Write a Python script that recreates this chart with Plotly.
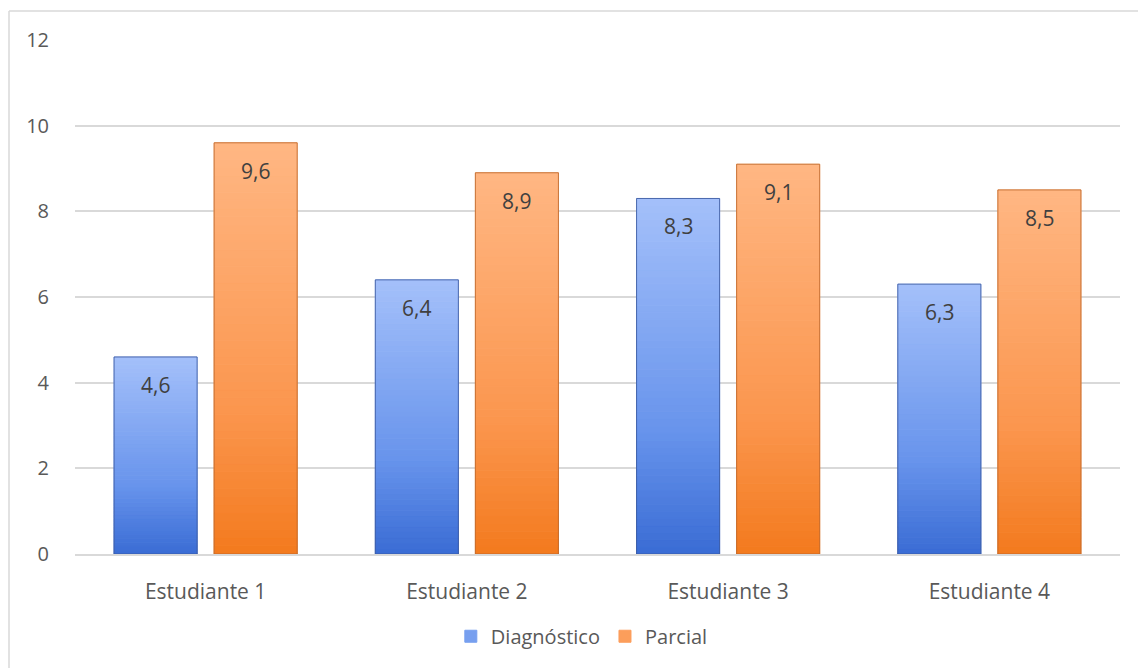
import plotly.graph_objects as go

categories = ["Estudiante 1", "Estudiante 2", "Estudiante 3", "Estudiante 4"]
diagnostico = [4.6, 6.4, 8.3, 6.3]
parcial = [9.6, 8.9, 9.1, 8.5]
series_names = ["Diagnóstico", "Parcial"]
y_ticks = [0, 2, 4, 6, 8, 10, 12]

W, H = 1138, 668
ML, MR, MT, MB = 75, 18, 40, 114
FONT = "'Open Sans', sans-serif"
TXT = "#595959"

# gradient stops (t=0 bottom, t=1 top)
grad = {
    "Diagnóstico": [(0.0, (58, 108, 212)), (0.35, (104, 148, 236)), (1.0, (164, 192, 250))],
    "Parcial": [(0.0, (243, 122, 30)), (0.35, (251, 150, 78)), (1.0, (255, 183, 131))],
}
outline = {"Diagnóstico": "rgba(60,90,160,0.85)", "Parcial": "rgba(190,105,45,0.85)"}


def color_at(stops, t):
    for (t0, c0), (t1, c1) in zip(stops, stops[1:]):
        if t <= t1:
            f = (t - t0) / (t1 - t0) if t1 > t0 else 0
            c = [round(a + (b - a) * f) for a, b in zip(c0, c1)]
            return "rgb(%d,%d,%d)" % tuple(c)
    return "rgb(%d,%d,%d)" % stops[-1][1]


N = 50
fig = go.Figure()
for name, vals in zip(series_names, [diagnostico, parcial]):
    for i in range(N):
        t = (i + 0.5) / N
        col = color_at(grad[name], t)
        fig.add_trace(go.Bar(
            x=categories,
            y=[v / N for v in vals],
            base=[v * i / N for v in vals],
            offsetgroup=name,
            name=name,
            legendgroup=name,
            showlegend=(i == N // 2),
            marker=dict(color=col, line=dict(width=1, color=col)),
            hoverinfo="skip",
        ))
    # outline trace carrying the value
    fig.add_trace(go.Bar(
        x=categories, y=vals, offsetgroup=name, name=name, legendgroup=name,
        showlegend=False,
        marker=dict(color="rgba(0,0,0,0)", line=dict(color=outline[name], width=1)),
    ))

# data labels inside near top
for k, (name, vals) in enumerate(zip(series_names, [diagnostico, parcial])):
    for c, v in zip(categories, vals):
        fig.add_annotation(
            x=c, y=v, xref="x", yref="y", text=f"{v:.1f}".replace(".", ","),
            showarrow=False, yanchor="top", yshift=-12, xshift=(-50 if k == 0 else 50),
            font=dict(family=FONT, size=21, color="#404040"),
        )

pw = W - ML - MR
ph = H - MT - MB
# outer chart border (left and top visible)
fig.add_shape(type="line", xref="paper", yref="paper",
              x0=(9 - ML) / pw, x1=(9 - ML) / pw, y0=(H - MB - 11) / ph, y1=(H - MB - H - 5) / ph,
              line=dict(color="#d9d9d9", width=1.5))
fig.add_shape(type="line", xref="paper", yref="paper",
              x0=(9 - ML) / pw, x1=(W + 5 - ML) / pw, y0=(H - MB - 11) / ph, y1=(H - MB - 11) / ph,
              line=dict(color="#d9d9d9", width=1.5))

fig.update_layout(
    width=W, height=H,
    margin=dict(l=ML, r=MR, t=MT, b=MB),
    paper_bgcolor="white", plot_bgcolor="white",
    barmode="group", bargap=0.234, bargroupgap=0.17,
    separators=",.",
    font=dict(family=FONT, size=20, color=TXT),
    showlegend=True,
    legend=dict(orientation="h", x=0.485, xanchor="center", y=-0.16, yanchor="middle",
                font=dict(family=FONT, size=20, color=TXT), itemwidth=30,
                traceorder="normal"),
    xaxis=dict(showgrid=False, showline=True, linecolor="#d9d9d9", linewidth=1.5,
               ticks="", ticklabelstandoff=18, tickfont=dict(size=21, color=TXT),
               fixedrange=True),
    yaxis=dict(range=[0, 12], tickvals=y_ticks, showgrid=True, gridcolor="#d9d9d9",
               gridwidth=1.5, zeroline=False, showline=False, ticks="",
               ticklabelstandoff=25, tickfont=dict(size=20, color=TXT), fixedrange=True),
)

fig.write_html("out.html")
